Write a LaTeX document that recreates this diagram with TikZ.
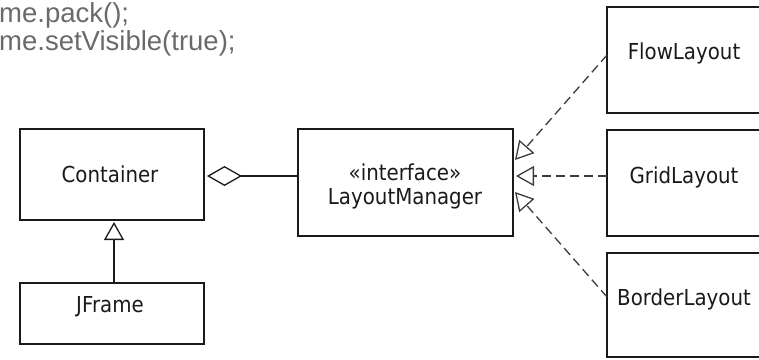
\documentclass[tikz,border=0pt]{standalone}
\usepackage{fontspec}
\setmainfont{DejaVu Sans}
\newfontfamily\umlfont{DejaVu Sans}[FakeStretch=0.9]
\newfontfamily\codefont{Liberation Sans}
\usetikzlibrary{arrows.meta}
\definecolor{codegray}{HTML}{6A6A6A}
\definecolor{ink}{HTML}{1A1A1A}
\begin{document}
\begin{tikzpicture}[x=1pt,y=-1pt,
  box/.style={draw=ink,line width=1.5pt,rectangle,inner sep=0pt},
  lbl/.style={anchor=base,inner sep=0pt,text=ink,font=\umlfont\fontsize{22}{24}\selectfont},
  code/.style={anchor=base west,inner sep=0pt,text=codegray,font=\codefont\fontsize{27.5}{28}\selectfont},
  gen/.style={draw=ink,line width=1.4pt,-{Triangle[open,length=18pt,width=20pt,line width=1.3pt]}},
  real/.style={draw=ink!85,line width=1.3pt,dash pattern=on 9pt off 5pt,-{Triangle[open,length=18pt,width=20pt,line width=1.3pt]}},
  aggr/.style={draw=ink,line width=1.4pt,{Diamond[open,length=35pt,width=20pt,line width=1.3pt]}-}]
\useasboundingbox (0,0) rectangle (759,359);
\clip (0,0) rectangle (759,359);
% code text
\node[code] (c1) at (-1,22) {me.pack();};
\node[code] (c2) at (-1,50) {me.setVisible(true);};
% boxes
\node[box,minimum width=184pt,minimum height=91pt] (container) at (112,174.5) {};
\node[box,minimum width=184pt,minimum height=61pt] (jframe) at (112,313.5) {};
\node[box,minimum width=215pt,minimum height=107pt] (layout) at (405.5,182.5) {};
\node[box,minimum width=154pt,minimum height=106pt] (flow) at (684,60) {};
\node[box,minimum width=154pt,minimum height=106pt] (grid) at (684,183) {};
\node[box,minimum width=154pt,minimum height=104pt] (border) at (684,305) {};
% labels
\node[lbl] (tcontainer) at (110,182) {Container};
\node[lbl] (tjframe) at (110,312) {JFrame};
\node[lbl] (tinterface) at (405,180) {«interface»};
\node[lbl] (tlayout) at (405,204) {LayoutManager};
\node[lbl] (tflow) at (684,59) {FlowLayout};
\node[lbl] (tgrid) at (684,183) {GridLayout};
\node[lbl] (tborder) at (684,305) {BorderLayout};
% connector end points
\coordinate (gs) at (114,283);
\coordinate (ge) at (114,222);
\coordinate (ds) at (207,176);
\coordinate (de) at (298,176);
\coordinate (fs) at (607,55);
\coordinate (fe) at (515,160);
\coordinate (gds) at (607,176);
\coordinate (gde) at (516,176);
\coordinate (bs) at (607,297);
\coordinate (be) at (515,192);
% connectors
\draw[gen] (gs) -- (ge);
\draw[aggr] (ds) -- (de);
\draw[real] (fs) -- (fe);
\draw[real] (gds) -- (gde);
\draw[real] (bs) -- (be);
\end{tikzpicture}
\end{document}
